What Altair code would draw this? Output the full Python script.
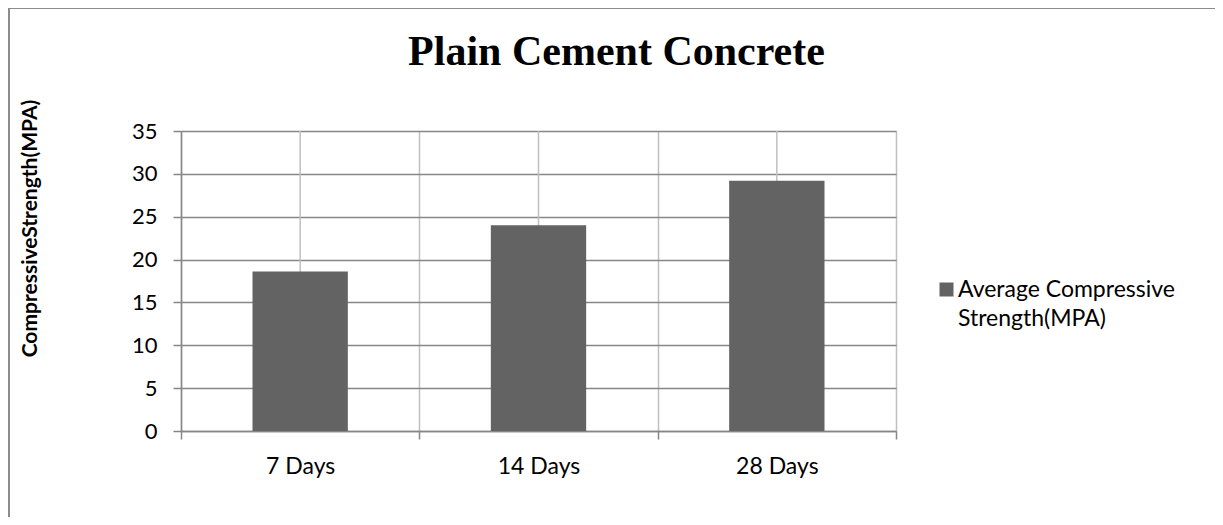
import altair as alt
import pandas as pd

categories = ["7 Days", "14 Days", "28 Days"]
values = [18.6, 24.0, 29.2]
series_name = "Average Compressive Strength(MPA)"
legend_lines = ["Average Compressive", "Strength(MPA)"]
y_ticks = [0, 5, 10, 15, 20, 25, 30, 35]
chart_title = "Plain Cement Concrete"
y_title = "CompressiveStrength(MPA)"

df = pd.DataFrame({"age": categories, "strength": values, "series": [series_name] * len(categories)})

W, H = 715, 300
PAD_L, PAD_T, PAD_R, PAD_B = 173, 123, 319, 86

x_scale = alt.Scale(domain=categories, paddingInner=0, paddingOuter=0)
y_scale = alt.Scale(domain=[0, 35], nice=False)

x_axis = alt.Axis(
    title=None, labelAngle=0, grid=True, gridColor="#c0c0c0", gridWidth=1.5,
    tickBand="extent", domainColor="#878787", domainWidth=1.5, tickColor="#878787",
    tickWidth=1.5, tickSize=8, labelFont="Lato", labelFontSize=23, labelColor="#000000",
    labelPadding=16,
)
y_axis = alt.Axis(
    title=y_title, values=y_ticks, grid=True, gridColor="#878787", gridWidth=1.5,
    domainColor="#878787", domainWidth=1.5, tickColor="#878787", tickWidth=1.5, tickSize=8,
    labelFont="Lato", labelFontSize=22, labelColor="#000000", labelPadding=16,
    titleFont="Lato", titleFontSize=21, titleFontWeight="bold", titleColor="#000000",
    titleAngle=270, titleX=-151, titleY=97, titleAlign="center", titleBaseline="middle",
)

base = alt.Chart(df)

center_lines = base.mark_rule(color="#c0c0c0", strokeWidth=1.5).encode(
    x=alt.X("age:N", scale=x_scale, sort=categories, axis=x_axis),
    y=alt.datum(0, scale=y_scale),
    y2=alt.datum(35),
)

bars = base.mark_bar(width=alt.RelativeBandSize(0.4)).encode(
    x=alt.X("age:N", scale=x_scale, sort=categories, axis=x_axis),
    y=alt.Y("strength:Q", scale=y_scale, axis=y_axis),
    color=alt.Color(
        "series:N",
        scale=alt.Scale(domain=[series_name], range=["#636363"]),
        legend=alt.Legend(
            title=None, orient="none", legendX=754, legendY=147,
            symbolType="square", symbolSize=196,
            symbolStrokeWidth=0, labelExpr=str(legend_lines).replace('"', "'"),
            labelFont="Lato", labelFontSize=23, labelBaseline="middle",
            labelLimit=0, labelColor="#000000", labelOffset=0,
        ),
    ),
)

frame_top = base.mark_rule(color="#8c8c8c", strokeWidth=2).encode(
    x=alt.value(-172), x2=alt.value(1215 - 181), y=alt.value(-123)
)
frame_left = base.mark_rule(color="#8c8c8c", strokeWidth=2).encode(
    x=alt.value(-172), y=alt.value(-123), y2=alt.value(517 - 131)
)

chart = (
    alt.layer(center_lines, bars, frame_top, frame_left)
    .properties(
        width=W, height=H,
        title=alt.Title(chart_title, font="Liberation Serif", fontSize=42, fontWeight="bold",
                        color="#000000", anchor="middle", frame="group", dx=78, offset=-67),
        autosize=alt.AutoSizeParams(type="none"),
        padding={"left": PAD_L, "top": PAD_T, "right": PAD_R, "bottom": PAD_B},
    )
    .configure_view(stroke=None)
    .configure(background="#ffffff", style={"guide-label": {"lineHeight": 29}})
)

chart.save("out.html", embed_options={"renderer": "svg", "actions": False})
